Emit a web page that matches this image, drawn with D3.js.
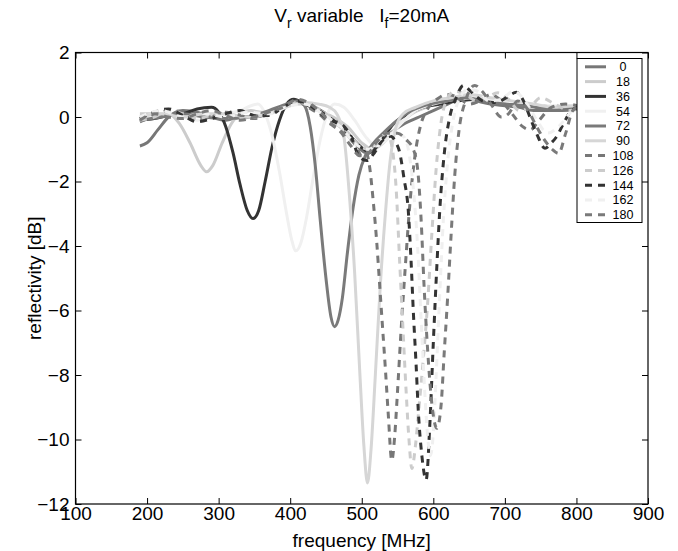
<!DOCTYPE html>
<html>
<head>
<meta charset="utf-8">
<script src="https://cdn.jsdelivr.net/npm/d3@7"></script>
<style>
  body { margin: 0; background: #fff; }
  text { font-family: "Liberation Sans", Arial, sans-serif; fill: #000; }
</style>
</head>
<body>
<div id="chart"></div>
<script>
const margin = { top: 52.5, right: 30, bottom: 47, left: 75.5 };
const width = 678 - margin.left - margin.right;
const height = 551 - margin.top - margin.bottom;

// legend labels (V_r values)
const seriesNames = ["0", "18", "36", "54", "72", "90", "108", "126", "144", "162", "180"];

const xTicks = [100, 200, 300, 400, 500, 600, 700, 800, 900];
const yTicks = [-12, -10, -8, -6, -4, -2, 0, 2];

// [frequency MHz, reflectivity dB]
const s0 = [[190,-0.9],[200,-0.8],[215,-0.4],[230,0.0],[250,0.2],[270,0.15],[290,0.0],[310,-0.1],[330,0.0],[350,0.0],[370,0.1],[390,0.3],[410,0.5],[430,0.35],[450,0.1],[470,-0.3],[490,-0.8],[505,-1.1],[520,-0.9],[540,-0.5],[560,-0.2],[580,0.0],[600,0.2],[620,0.4],[640,0.6],[660,0.5],[680,0.4],[700,0.35],[720,0.3],[740,0.2],[760,0.2],[780,0.2],[800,0.25],[810,0.3]];
const s18 = [[190,0.1],[210,0.1],[230,0.1],[245,-0.2],[260,-0.8],[275,-1.5],[283,-1.7],[292,-1.5],[305,-0.8],[318,-0.2],[330,0.1],[345,0.2],[360,0.15],[380,0.2],[400,0.4],[420,0.4],[440,0.2],[460,0.0],[480,-0.3],[500,-0.8],[515,-1.0],[530,-0.8],[550,-0.3],[570,0.1],[590,0.3],[610,0.45],[630,0.55],[650,0.6],[670,0.55],[700,0.45],[730,0.4],[760,0.3],[790,0.35],[810,0.35]];
const s36 = [[190,-0.1],[210,-0.05],[230,0.05],[250,0.1],[270,0.25],[290,0.3],[300,0.15],[310,-0.3],[320,-1.1],[330,-2.1],[340,-2.9],[348,-3.15],[356,-2.9],[365,-2.0],[375,-0.9],[385,-0.1],[395,0.4],[405,0.55],[420,0.4],[440,0.2],[460,-0.1],[480,-0.5],[500,-0.95],[512,-1.1],[525,-0.8],[545,-0.2],[565,0.1],[585,0.3],[610,0.4],[635,0.5],[660,0.55],[690,0.45],[720,0.4],[750,0.35],[780,0.3],[810,0.3]];
const s54 = [[190,0.0],[220,0.1],[250,0.0],[270,-0.1],[290,0.0],[310,0.1],[330,0.2],[345,0.35],[355,0.4],[365,0.1],[375,-0.6],[385,-1.7],[395,-3.0],[402,-3.8],[408,-4.15],[415,-3.9],[423,-3.1],[432,-1.9],[442,-0.7],[452,0.1],[462,0.4],[475,0.3],[490,-0.1],[505,-0.6],[520,-0.9],[535,-0.7],[555,-0.2],[575,0.2],[600,0.4],[630,0.55],[660,0.6],[690,0.5],[720,0.45],[760,0.35],[810,0.35]];
const s72 = [[190,-0.1],[220,0.0],[250,0.1],[280,0.0],[310,-0.05],[340,0.0],[370,0.2],[395,0.4],[410,0.5],[420,0.35],[428,-0.3],[435,-1.5],[442,-3.2],[450,-5.0],[457,-6.2],[462,-6.5],[467,-6.3],[473,-5.6],[480,-4.2],[488,-2.8],[496,-1.8],[505,-1.2],[515,-0.85],[530,-0.5],[550,-0.1],[570,0.2],[595,0.4],[620,0.5],[645,0.6],[670,0.5],[700,0.4],[730,0.35],[760,0.25],[790,0.3],[810,0.3]];
const s90 = [[190,0.0],[220,0.1],[250,0.0],[280,0.1],[310,0.1],[340,0.0],[370,0.1],[400,0.35],[420,0.45],[440,0.4],[455,0.3],[465,0.1],[475,-0.6],[483,-2.5],[490,-4.8],[497,-7.8],[503,-10.2],[508,-11.35],[513,-10.3],[519,-8.0],[526,-5.2],[533,-3.0],[540,-1.3],[548,-0.3],[558,0.1],[575,0.3],[600,0.5],[625,0.6],[650,0.7],[680,0.6],[710,0.5],[740,0.4],[770,0.3],[800,0.35],[810,0.35]];
const s108 = [[190,-0.15],[210,0.05],[230,0.2],[250,0.15],[270,-0.1],[290,0.0],[310,0.15],[330,0.05],[350,-0.05],[370,0.1],[390,0.35],[410,0.5],[425,0.3],[440,0.1],[455,-0.2],[468,-0.4],[480,-0.6],[492,-0.9],[500,-1.2],[506,-1.1],[511,-1.55],[516,-2.6],[521,-3.9],[525,-5.2],[529,-6.5],[533,-7.8],[537,-9.2],[542,-10.65],[546,-9.9],[550,-8.5],[555,-6.6],[561,-4.6],[568,-2.5],[575,-1.1],[583,-0.2],[592,0.25],[605,0.55],[619,0.7],[635,0.6],[650,0.4],[665,0.5],[680,0.7],[695,0.5],[710,0.1],[725,-0.3],[735,-0.4],[748,-0.1],[765,0.3],[785,0.4],[810,0.3]];
const s126 = [[190,-0.1],[210,0.0],[230,0.2],[250,0.1],[270,-0.05],[290,0.05],[310,0.1],[330,-0.05],[350,0.0],[370,0.1],[390,0.3],[410,0.45],[430,0.35],[450,0.1],[470,-0.2],[485,-0.6],[500,-0.95],[512,-1.0],[525,-0.7],[535,-0.5],[542,-0.9],[548,-2.2],[553,-4.5],[557,-6.3],[562,-8.5],[566,-10.0],[570,-10.9],[575,-10.2],[580,-9.0],[586,-7.5],[592,-5.8],[598,-3.6],[604,-1.6],[610,-0.3],[618,0.5],[630,0.8],[645,0.7],[660,0.5],[675,0.6],[690,0.75],[705,0.55],[720,0.2],[735,0.3],[750,0.6],[770,0.4],[790,0.2],[810,0.3]];
const s144 = [[190,-0.05],[210,0.15],[230,0.25],[250,0.05],[270,-0.15],[290,-0.05],[310,0.1],[330,0.2],[350,0.05],[370,0.05],[390,0.3],[410,0.5],[425,0.4],[440,0.15],[455,-0.1],[470,-0.2],[485,-0.6],[497,-1.25],[507,-1.35],[518,-1.1],[530,-0.7],[540,-0.6],[548,-0.8],[553,-1.1],[559,-1.9],[565,-2.9],[569,-4.5],[572,-6.0],[576,-7.7],[579,-9.1],[584,-10.5],[590,-11.25],[595,-9.6],[600,-7.0],[605,-4.6],[609,-2.9],[615,-1.2],[623,0.0],[632,0.6],[642,0.98],[652,0.8],[662,0.6],[675,0.45],[688,0.45],[702,0.6],[716,0.77],[726,0.5],[735,0.0],[745,-0.55],[756,-0.97],[765,-0.8],[772,-0.62],[782,-0.2],[793,0.2],[810,0.35]];
const s162 = [[190,0.0],[220,0.2],[250,0.0],[280,0.1],[310,0.0],[340,0.15],[370,0.1],[400,0.35],[420,0.4],[445,0.1],[470,-0.3],[495,-0.9],[510,-1.0],[525,-0.7],[545,-0.5],[558,-0.6],[565,-1.0],[572,-2.2],[578,-4.0],[583,-6.3],[588,-8.5],[592,-9.9],[596,-10.5],[600,-9.8],[604,-8.0],[609,-5.5],[614,-3.2],[620,-1.4],[627,-0.2],[635,0.5],[648,0.85],[662,0.8],[678,0.5],[695,0.55],[712,0.8],[728,0.5],[742,0.0],[760,-0.5],[775,-0.3],[795,0.2],[810,0.3]];
const s180 = [[190,-0.1],[210,0.1],[230,0.0],[250,-0.05],[270,0.1],[290,0.2],[310,0.05],[330,-0.1],[350,0.0],[370,0.15],[390,0.3],[410,0.55],[425,0.45],[440,0.2],[455,-0.15],[470,-0.45],[485,-0.9],[497,-1.2],[508,-1.15],[520,-0.8],[535,-0.5],[550,-0.5],[562,-0.7],[572,-1.0],[578,-1.6],[583,-3.2],[587,-5.2],[592,-7.2],[598,-8.9],[605,-9.65],[611,-8.9],[615,-7.4],[620,-5.6],[625,-3.6],[630,-1.8],[636,-0.4],[645,0.5],[658,0.98],[670,0.75],[682,0.35],[695,0.0],[705,0.1],[718,0.5],[730,0.3],[742,-0.2],[755,-0.7],[766,-1.0],[775,-1.13],[785,-0.5],[795,0.2],[810,0.4]];

const seriesData = [s0, s18, s36, s54, s72, s90, s108, s126, s144, s162, s180];

// styles, kept apart from the data
const strokes = ["#777777", "#cccccc", "#333333", "#f0f0f0", "#7a7a7a", "#d6d6d6",
                 "#777777", "#cccccc", "#333333", "#f0f0f0", "#7a7a7a"];
const dashes = [null, null, null, null, null, null, "7,6", "7,6", "7,6", "7,6", "7,6"];

const svg = d3.select("#chart").append("svg")
  .attr("width", 678)
  .attr("height", 551);

const g = svg.append("g")
  .attr("transform", `translate(${margin.left},${margin.top})`);

const x = d3.scaleLinear().domain([100, 900]).range([0, width]);
const y = d3.scaleLinear().domain([-12, 2]).range([height, 0]);

// curves
const line = d3.line()
  .x(d => x(d[0]))
  .y(d => y(d[1]))
  .curve(d3.curveMonotoneX);

g.selectAll(".curve")
  .data(seriesData)
  .enter().append("path")
  .attr("class", "curve")
  .attr("d", line)
  .attr("fill", "none")
  .attr("stroke", (d, i) => strokes[i])
  .attr("stroke-width", 3)
  .attr("stroke-dasharray", (d, i) => dashes[i]);

// axes with inward ticks, matlab style box
const fmt = d3.format("");
const tickFont = "19px";

const xAxis = g.append("g")
  .attr("transform", `translate(0,${height})`)
  .call(d3.axisBottom(x).tickValues(xTicks).tickSize(-6).tickPadding(4).tickFormat(fmt));
const xTop = g.append("g")
  .call(d3.axisTop(x).tickValues(xTicks).tickSize(-6).tickFormat(""));
const yAxis = g.append("g")
  .call(d3.axisLeft(y).tickValues(yTicks).tickSize(-6).tickPadding(6).tickFormat(fmt));
const yRight = g.append("g")
  .attr("transform", `translate(${width},0)`)
  .call(d3.axisRight(y).tickValues(yTicks).tickSize(-6).tickFormat(""));

[xAxis, xTop, yAxis, yRight].forEach(a => {
  a.select(".domain").remove();
  a.selectAll("line").attr("stroke", "#000");
  a.selectAll("text")
    .style("font-size", tickFont)
    .style("font-family", '"Liberation Sans", Arial, sans-serif');
});
xAxis.selectAll("text").attr("dy", "0.62em");

g.append("rect")
  .attr("width", width)
  .attr("height", height)
  .attr("fill", "none")
  .attr("stroke", "#000")
  .attr("stroke-width", 1.2);

// title with subscripts
const title = svg.append("text")
  .attr("x", margin.left + width / 2)
  .attr("y", 22)
  .attr("text-anchor", "middle")
  .style("font-size", "19px")
  .style("white-space", "pre");
title.append("tspan").text("V");
title.append("tspan").attr("dy", 6).style("font-size", "14px").text("r");
title.append("tspan").attr("dy", -6).text(" variable   I");
title.append("tspan").attr("dy", 6).style("font-size", "14px").text("f");
title.append("tspan").attr("dy", -6).text("=20mA");

// axis labels
svg.append("text")
  .attr("x", margin.left + width / 2)
  .attr("y", 547)
  .attr("text-anchor", "middle")
  .style("font-size", "19px")
  .text("frequency [MHz]");

svg.append("text")
  .attr("transform", `translate(41,${margin.top + height / 2}) rotate(-90)`)
  .attr("text-anchor", "middle")
  .style("font-size", "19px")
  .text("reflectivity [dB]");

// legend
const legend = svg.append("g")
  .attr("transform", "translate(577,58.5)");

legend.append("rect")
  .attr("width", 65)
  .attr("height", 164)
  .attr("fill", "#fff")
  .attr("stroke", "#000")
  .attr("stroke-width", 1);

const items = legend.selectAll(".legend-item")
  .data(seriesNames)
  .enter().append("g")
  .attr("class", "legend-item")
  .attr("transform", (d, i) => `translate(0,${8.3 + i * 14.8})`);

items.append("line")
  .attr("x1", 8)
  .attr("x2", 29)
  .attr("stroke", (d, i) => strokes[i])
  .attr("stroke-width", 3)
  .attr("stroke-dasharray", (d, i) => dashes[i]);

items.append("text")
  .attr("x", 46)
  .attr("dy", "0.35em")
  .attr("text-anchor", "middle")
  .style("font-size", "12.5px")
  .text(d => d);
</script>
</body>
</html>
